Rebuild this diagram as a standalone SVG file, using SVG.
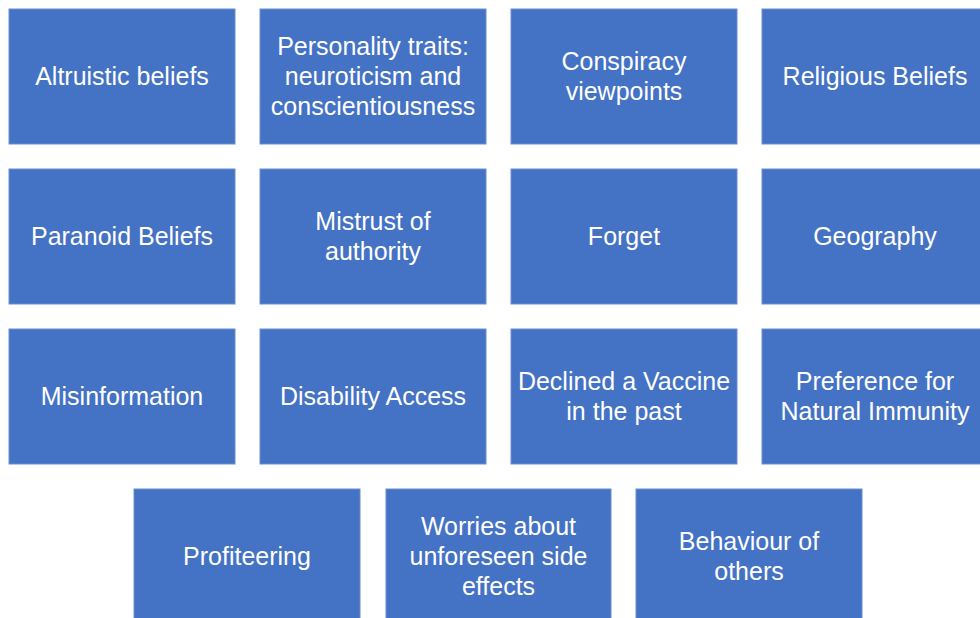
<svg xmlns="http://www.w3.org/2000/svg" width="980" height="618" viewBox="0 0 980 618">
<style>
.box{fill:#4472C4;stroke:#6A8FD0;stroke-width:1}
.lbl{fill:#FFFFFF;font-family:"Liberation Sans",Arial,sans-serif;font-size:25px;text-anchor:middle;dominant-baseline:central}
</style>
<rect width="980" height="618" fill="#FFFFFF"/>
<g id="connectors"></g>
<g id="n1"><rect class="box" x="9" y="9" width="226" height="135"/><text class="lbl" x="122" y="76">Altruistic beliefs</text></g>
<g id="n2"><rect class="box" x="260" y="9" width="226" height="135"/><text class="lbl"><tspan x="373" y="46">Personality traits:</tspan><tspan x="373" y="76">neuroticism and</tspan><tspan x="373" y="106">conscientiousness</tspan></text></g>
<g id="n3"><rect class="box" x="511" y="9" width="226" height="135"/><text class="lbl"><tspan x="624" y="61">Conspiracy</tspan><tspan x="624" y="91">viewpoints</tspan></text></g>
<g id="n4"><rect class="box" x="762" y="9" width="226" height="135"/><text class="lbl" x="875" y="76">Religious Beliefs</text></g>
<g id="n5"><rect class="box" x="9" y="169" width="226" height="135"/><text class="lbl" x="122" y="236">Paranoid Beliefs</text></g>
<g id="n6"><rect class="box" x="260" y="169" width="226" height="135"/><text class="lbl"><tspan x="373" y="221">Mistrust of</tspan><tspan x="373" y="251">authority</tspan></text></g>
<g id="n7"><rect class="box" x="511" y="169" width="226" height="135"/><text class="lbl" x="624" y="236">Forget</text></g>
<g id="n8"><rect class="box" x="762" y="169" width="226" height="135"/><text class="lbl" x="875" y="236">Geography</text></g>
<g id="n9"><rect class="box" x="9" y="329" width="226" height="135"/><text class="lbl" x="122" y="396">Misinformation</text></g>
<g id="n10"><rect class="box" x="260" y="329" width="226" height="135"/><text class="lbl" x="373" y="396">Disability Access</text></g>
<g id="n11"><rect class="box" x="511" y="329" width="226" height="135"/><text class="lbl"><tspan x="624" y="381">Declined a Vaccine</tspan><tspan x="624" y="411">in the past</tspan></text></g>
<g id="n12"><rect class="box" x="762" y="329" width="226" height="135"/><text class="lbl"><tspan x="875" y="381">Preference for</tspan><tspan x="875" y="411">Natural Immunity</tspan></text></g>
<g id="n13"><rect class="box" x="134" y="489" width="226" height="135"/><text class="lbl" x="247" y="556">Profiteering</text></g>
<g id="n14"><rect class="box" x="386" y="489" width="225" height="135"/><text class="lbl"><tspan x="498.5" y="526">Worries about</tspan><tspan x="498.5" y="556">unforeseen side</tspan><tspan x="498.5" y="586">effects</tspan></text></g>
<g id="n15"><rect class="box" x="636" y="489" width="226" height="135"/><text class="lbl"><tspan x="749" y="541">Behaviour of</tspan><tspan x="749" y="571">others</tspan></text></g>
</svg>
